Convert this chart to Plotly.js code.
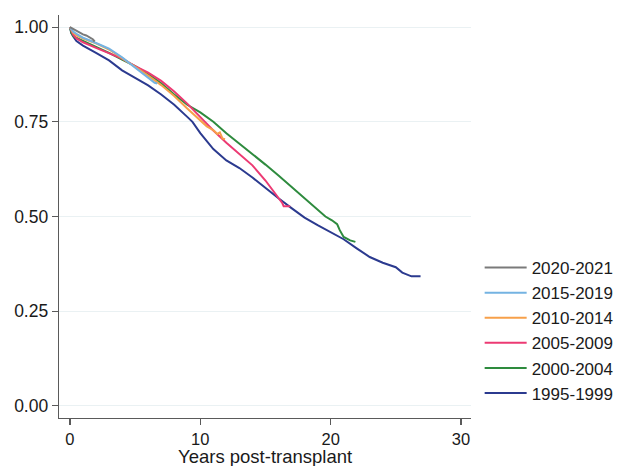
<!DOCTYPE html>
<html>
<head>
<meta charset="utf-8">
<script src="https://cdn.plot.ly/plotly-3.0.1.min.js"></script>
<style>html,body{margin:0;padding:0;background:#fff;}#chart{width:627px;height:466px;}</style>
</head>
<body>
<div id="chart"></div>
<script>
// Kaplan-Meier style survival by era of transplant
const seriesNames = ["1995-1999", "2000-2004", "2005-2009", "2010-2014", "2015-2019", "2020-2021"];
const seriesColors = ["#2b3a8f", "#2e8b3e", "#ec3a73", "#f7a04a", "#74b3e2", "#7a7a7a"];

const t1995 = [0, 0.1, 0.25, 0.5, 1, 1.5, 2, 3, 4, 5, 6, 7, 8, 9, 9.4, 10, 11, 12, 13, 14, 15, 16, 17, 18, 19, 20, 21, 22, 23, 24, 25, 25.5, 26.2, 26.9];
const s1995 = [1.0, 0.985, 0.975, 0.963, 0.951, 0.942, 0.932, 0.912, 0.886, 0.866, 0.846, 0.822, 0.795, 0.763, 0.750, 0.720, 0.678, 0.648, 0.628, 0.603, 0.575, 0.548, 0.522, 0.497, 0.477, 0.458, 0.440, 0.416, 0.393, 0.378, 0.366, 0.352, 0.342, 0.342];

const t2000 = [0, 0.1, 0.3, 1, 2, 3, 4, 5, 6, 7, 8, 9, 10, 11, 12, 13, 14, 15, 16, 17, 18, 19, 19.6, 20.1, 20.5, 20.7, 21.0, 21.5, 21.9];
const s2000 = [1.0, 0.985, 0.975, 0.964, 0.949, 0.932, 0.914, 0.897, 0.876, 0.852, 0.822, 0.795, 0.775, 0.750, 0.720, 0.693, 0.664, 0.637, 0.608, 0.578, 0.548, 0.519, 0.500, 0.490, 0.480, 0.464, 0.446, 0.437, 0.433];

const t2005 = [0, 0.25, 0.5, 1, 2, 3, 4, 5, 6, 7, 8, 9, 10, 10.4, 11, 12, 13, 14, 15, 15.5, 16, 16.3, 16.4, 16.9];
const s2005 = [1.0, 0.980, 0.970, 0.960, 0.945, 0.932, 0.917, 0.897, 0.880, 0.858, 0.830, 0.798, 0.763, 0.750, 0.727, 0.695, 0.665, 0.635, 0.595, 0.572, 0.551, 0.535, 0.527, 0.527];

const t2010 = [0, 0.25, 0.5, 1, 2, 3, 4, 5, 6, 7, 8, 9, 10, 10.5, 11, 11.3, 11.5, 11.7, 11.9];
const s2010 = [1.0, 0.985, 0.978, 0.970, 0.957, 0.941, 0.918, 0.896, 0.872, 0.847, 0.818, 0.785, 0.752, 0.738, 0.728, 0.718, 0.722, 0.706, 0.704];

const t2015 = [0, 0.25, 0.5, 1, 2, 3, 4, 5, 5.5, 6, 6.3, 6.5, 6.7];
const s2015 = [1.0, 0.988, 0.982, 0.972, 0.958, 0.943, 0.920, 0.893, 0.880, 0.866, 0.858, 0.853, 0.851];

const t2020 = [0, 0.25, 0.5, 0.75, 1, 1.25, 1.5, 1.75, 1.9];
const s2020 = [1.0, 0.995, 0.990, 0.985, 0.981, 0.978, 0.974, 0.968, 0.962];

const xTicks = [0, 10, 20, 30];
const yTicks = [0, 0.25, 0.5, 0.75, 1.0];
const xTitle = "Years post-transplant";

const times = [t1995, t2000, t2005, t2010, t2015, t2020];
const survs = [s1995, s2000, s2005, s2010, s2015, s2020];

const traces = seriesNames.map((name, i) => ({
  type: "scatter",
  mode: "lines",
  x: times[i],
  y: survs[i],
  name: name,
  legendrank: 100 - i,
  line: {color: seriesColors[i], width: 2}
}));

const fontFam = "'Liberation Sans', Arial, sans-serif";
const txt = "#1a1a1a";
const layout = {
  width: 627, height: 466,
  margin: {l: 59, r: 156, t: 15, b: 48, pad: 0},
  paper_bgcolor: "#ffffff",
  plot_bgcolor: "#ffffff",
  font: {family: fontFam, size: 17, color: txt},
  showlegend: true,
  legend: {
    xref: "container", yref: "container",
    x: 0.765, y: 1 - 250/466, xanchor: "left", yanchor: "top",
    traceorder: "normal",
    itemwidth: 42,
    font: {family: fontFam, size: 17, color: txt},
    bgcolor: "rgba(0,0,0,0)"
  },
  annotations: [{
    text: xTitle,
    xref: "paper", yref: "paper",
    x: 0.5, y: (418 - 456.5) / 403,
    xanchor: "center", yanchor: "middle",
    showarrow: false,
    font: {family: fontFam, size: 18.5, color: txt}
  }],
  xaxis: {
    range: [-0.84, 30.77],
    tickvals: xTicks,
    ticks: "outside", ticklen: 6, tickwidth: 1.2, tickcolor: "#5a5a5a",
    showline: true, linecolor: "#5a5a5a", linewidth: 1.3,
    showgrid: false, zeroline: false,
    tickfont: {family: fontFam, size: 16.5, color: txt}
  },
  yaxis: {
    range: [-0.032, 1.032],
    tickvals: yTicks,
    tickformat: ".2f",
    ticks: "outside", ticklen: 6, tickwidth: 1.2, tickcolor: "#5a5a5a",
    showline: true, linecolor: "#5a5a5a", linewidth: 1.3,
    showgrid: true, gridcolor: "#eaf1f3", gridwidth: 1,
    zeroline: false,
    tickfont: {family: fontFam, size: 17.5, color: txt}
  }
};

Plotly.newPlot("chart", traces, layout, {staticPlot: true, displayModeBar: false});
</script>
</body>
</html>
